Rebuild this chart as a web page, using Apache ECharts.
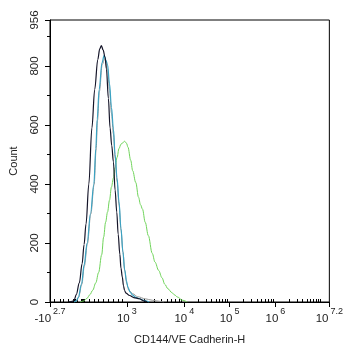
<!DOCTYPE html>
<html>
<head>
<meta charset="utf-8">
<script src="https://cdn.jsdelivr.net/npm/echarts@6/dist/echarts.min.js"></script>
<style>html,body{margin:0;padding:0;background:#fff}#c{width:346px;height:350px}</style>
</head>
<body>
<div id="c"></div>
<script>
// x values are display channels of the biexponential axis (0..1000)
const blackX = [66,80,87,94,105,115,122,129,139,150,160,171,178,184,190,197,202,209,215,221,227,233,239,244,250,254,259,263,267,272,285,300,320,335,348];
const blackY = [0,2,8,25,65,130,195,265,400,590,720,822,858,869,855,830,790,690,590,530,475,380,305,230,162,115,84,55,39,30,22,15,11,4,0];

const blueX = [87,94,101,113,122,133,145,157,164,169,176,186,194,200,206,213,220,227,233,240,247,254,261,267,274,279,287,296,307,320,335,355];
const blueY = [0,4,15,61,125,200,300,400,520,620,720,811,836,820,805,740,660,587,500,420,340,250,170,110,70,50,33,23,16,11,6,0];

const grayX = [88,95,102,114,123,134,146,158,165,170,177,187,196,206,213,220,227,233,240,247,254,261,268,275,282,296,314,341,366,394,408];
const grayY = [0,4,15,60,122,198,298,398,515,615,715,805,825,790,720,640,570,490,410,330,245,170,105,62,40,28,18,11,6,2,0];

const greenX = [108,119,132,143,153,164,174,185,192,199,206,213,220,227,233,240,247,254,261,267,274,279,289,296,307,317,324,331,341,352,366,376,389,401,411,422,436,446,456,474,491];
const greenY = [0,3,12,25,40,65,100,160,220,270,305,345,390,420,455,490,520,535,540,545,538,525,480,445,405,355,330,315,270,225,165,135,107,82,60,45,32,24,17,6,0];

const xTickChannels = [0, 275, 481, 643, 807, 1000];
const xTickBase = ['-10', '10', '10', '10', '10', '10'];
const xTickExp = ['2.7', '3', '4', '5', '6', '7.2'];
const xLinearMinor = [17,35,49,66,84,87,91,98,112,115,119,122,139,157,174,192,209,227,244,258];

const yTicks = [0, 200, 400, 600, 800, 956];
const yMinorTicks = [100, 300, 500, 700, 900];

const FONT = '"Liberation Sans", Arial, sans-serif';

function zip(xs, ys) { return xs.map((x, i) => [x, ys[i]]); }

// minor log ticks between decades
const xLogMinor = [];
for (let d = 1; d < xTickChannels.length - 1; d++) {
  const c0 = xTickChannels[d];
  const span = d === xTickChannels.length - 2 ? (xTickChannels[d + 1] - c0) / 1.2 : xTickChannels[d + 1] - c0;
  for (let k = 2; k <= 10; k++) {
    const v = c0 + span * Math.log10(k);
    if (v < xTickChannels[xTickChannels.length - 1] - 1 && (k < 10 || d === xTickChannels.length - 2)) xLogMinor.push(Math.round(v * 10) / 10);
  }
}
const xMinor = xLinearMinor.concat(xLogMinor);

const chart = echarts.init(document.getElementById('c'));

function mk(name, xs, ys, color, w) {
  return {
    name: name, type: 'line', data: zip(xs, ys), smooth: 0.35, smoothMonotone: 'x',
    showSymbol: false, symbol: 'none', silent: true,
    lineStyle: { color: color, width: w }, animation: false
  };
}

const baseX = { type: 'value', min: 0, max: 1000, splitLine: { show: false } };
const baseY = { type: 'value', min: 0, max: 956, splitLine: { show: false } };

chart.setOption({
  animation: false,
  backgroundColor: '#fff',
  grid: { left: 45, right: 14, top: 20, bottom: 45, show: true, borderColor: '#000', borderWidth: 1 },
  xAxis: [
    Object.assign({}, baseX, {
      name: 'CD144/VE Cadherin-H', nameLocation: 'middle', nameGap: 32,
      nameTextStyle: { fontSize: 11, color: '#222', fontFamily: FONT },
      axisLine: { show: true, lineStyle: { color: '#000', width: 1 } },
      axisTick: { show: true, length: 5, customValues: xTickChannels, lineStyle: { color: '#000' } },
      axisLabel: {
        show: true, margin: 5, customValues: xTickChannels,
        formatter: function (v) {
          let i = xTickChannels.findIndex(c => Math.abs(c - v) < 0.5);
          if (i < 0) return '';
          return '{b|' + xTickBase[i] + '}{s|' + xTickExp[i] + '}';
        },
        rich: {
          b: { fontSize: 11.5, color: '#222', fontFamily: FONT, padding: [6, 0, 0, 0] },
          s: { fontSize: 9, color: '#222', fontFamily: FONT, verticalAlign: 'top', padding: [0, 0, 0, 2] }
        }
      }
    }),
    Object.assign({}, baseX, {
      axisLine: { show: false },
      axisTick: { show: true, length: 3, customValues: xMinor, lineStyle: { color: '#000' } },
      axisLabel: { show: false }
    })
  ],
  yAxis: [
    Object.assign({}, baseY, {
      name: 'Count', nameLocation: 'middle', nameGap: 31, nameRotate: 90,
      nameTextStyle: { fontSize: 11, color: '#222', fontFamily: FONT },
      axisLine: { show: true, lineStyle: { color: '#000', width: 1 } },
      axisTick: { show: true, length: 5, customValues: yTicks, lineStyle: { color: '#000' } },
      axisLabel: { show: true, rotate: 90, margin: 9, customValues: yTicks, fontSize: 11.5, color: '#222', fontFamily: FONT }
    }),
    Object.assign({}, baseY, {
      position: 'left',
      axisLine: { show: false },
      axisTick: { show: true, length: 3, customValues: yMinorTicks, lineStyle: { color: '#000' } },
      axisLabel: { show: false }
    })
  ],
  series: [
    mk('green', greenX, greenY, '#6fd35a', 1),
    mk('gray', grayX, grayY, '#9a9a9a', 1),
    mk('blue', blueX, blueY, '#3aa2c2', 1.2),
    mk('black', blackX, blackY, '#141428', 1.2)
  ]
});
</script>
</body>
</html>
